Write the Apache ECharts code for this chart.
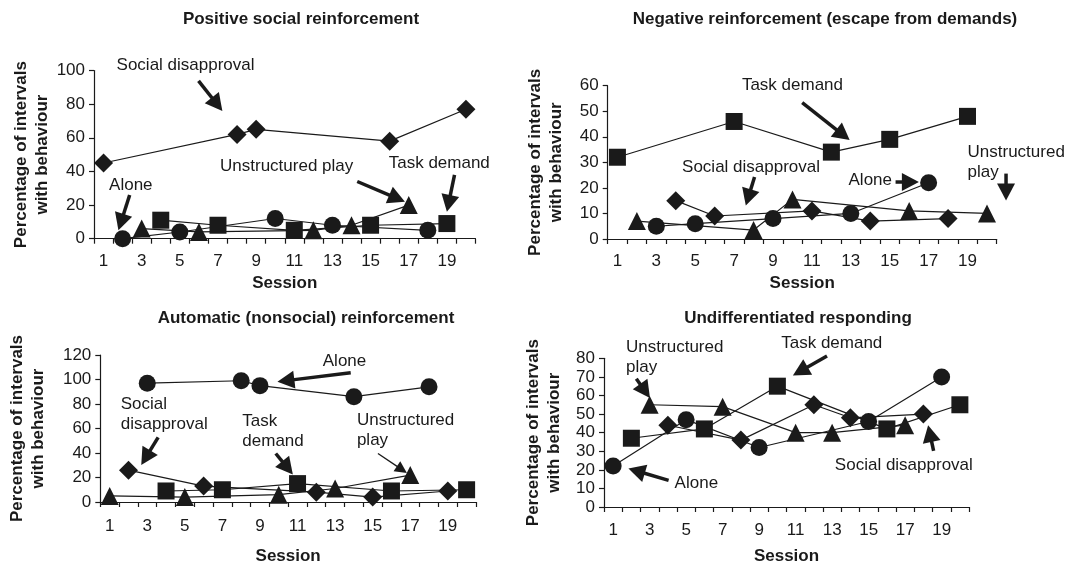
<!DOCTYPE html>
<html>
<head>
<meta charset="utf-8">
<title>Functional analysis outcomes</title>
<script src="https://cdn.jsdelivr.net/npm/echarts@6/dist/echarts.min.js"></script>
<style>
  html, body { margin: 0; padding: 0; background: #fff; }
  #chart { width: 1066px; height: 566px; }
</style>
</head>
<body>
<div id="chart"></div>
<script>
// ---- data ----
var panelTitles = [
    'Positive social reinforcement',
    'Negative reinforcement (escape from demands)',
    'Automatic (nonsocial) reinforcement',
    'Undifferentiated responding'
];
var sessionLabels = ['1', '2', '3', '4', '5', '6', '7', '8', '9', '10',
    '11', '12', '13', '14', '15', '16', '17', '18', '19', '20'];
var yMax = [100, 60, 120, 80];
var yStep = [20, 10, 20, 10];

// panel 1: positive social reinforcement
var p1SocialX = [1, 8, 9, 16, 20];
var p1SocialY = [45, 62, 65, 58, 77];
var p1AloneX = [2, 5, 10, 13, 18];
var p1AloneY = [0, 4, 12, 8, 5];
var p1TaskX = [4, 7, 11, 15, 19];
var p1TaskY = [11, 8, 5, 8, 9];
var p1PlayX = [3, 6, 12, 14, 17];
var p1PlayY = [6, 4, 5, 8, 20];

// panel 2: negative reinforcement
var p2SocialX = [4, 6, 11, 14, 18];
var p2SocialY = [15, 9, 11, 7, 8];
var p2AloneX = [3, 5, 9, 13, 17];
var p2AloneY = [5, 6, 8, 10, 22];
var p2TaskX = [1, 7, 12, 15, 19];
var p2TaskY = [32, 46, 34, 39, 48];
var p2PlayX = [2, 8, 10, 16, 20];
var p2PlayY = [7, 3.5, 15.5, 11, 10];

// panel 3: automatic reinforcement
var p3SocialX = [2, 6, 12, 15, 19];
var p3SocialY = [26, 13, 8, 4, 9];
var p3AloneX = [3, 8, 9, 14, 18];
var p3AloneY = [97, 99, 95, 86, 94];
var p3TaskX = [4, 7, 11, 16, 20];
var p3TaskY = [9, 10, 15, 9, 10];
var p3PlayX = [1, 5, 10, 13, 17];
var p3PlayY = [5, 4, 6, 11, 22];

// panel 4: undifferentiated
var p4SocialX = [4, 8, 12, 14, 18];
var p4SocialY = [44, 36, 55, 48, 50];
var p4AloneX = [1, 5, 9, 15, 19];
var p4AloneY = [22, 47, 32, 46, 70];
var p4TaskX = [2, 6, 10, 16, 20];
var p4TaskY = [37, 42, 65, 42, 55];
var p4PlayX = [3, 7, 11, 13, 17];
var p4PlayY = [55, 54, 40, 40, 44];

var panels = [
    [[p1SocialX, p1SocialY], [p1AloneX, p1AloneY], [p1TaskX, p1TaskY], [p1PlayX, p1PlayY]],
    [[p2SocialX, p2SocialY], [p2AloneX, p2AloneY], [p2TaskX, p2TaskY], [p2PlayX, p2PlayY]],
    [[p3SocialX, p3SocialY], [p3AloneX, p3AloneY], [p3TaskX, p3TaskY], [p3PlayX, p3PlayY]],
    [[p4SocialX, p4SocialY], [p4AloneX, p4AloneY], [p4TaskX, p4TaskY], [p4PlayX, p4PlayY]]
];
var conditionNames = ['Social disapproval', 'Alone', 'Task demand', 'Unstructured play'];

// ---- layout ----
var FONT = '"Liberation Sans", Arial, Helvetica, sans-serif';
var INK = '#1a1a1a';
var grids = [
    { left: 94, top: 70.5, width: 381.5, height: 168.2 },
    { left: 607.7, top: 85.7, width: 389, height: 153.3 },
    { left: 100.3, top: 355, width: 375.7, height: 152 },
    { left: 604, top: 358.3, width: 365, height: 153.4 }
];
var titleX = [301, 825, 306, 798];
var titleY = [11, 11, 310, 310];
var yNameGap = [37, 41, 51, 39];
var xNameGap = [36, 36, 46, 41];
var xLabelMargin = [14, 14, 16, 15];
var markerShape = ['diamond', 'circle', 'rect', 'triangle'];
var markerSize = [19, 17, 17, 18];

// annotations, in session / percent units of each panel
var notes = [
    { panel: 0, text: 'Social disapproval', at: [5.3, 103], from: [5.98, 93.8], to: [7.23, 75.9] },
    { panel: 0, text: 'Unstructured play', at: [10.6, 43], from: [14.3, 34], to: [16.8, 22] },
    { panel: 0, text: 'Task demand', at: [18.6, 45], from: [19.4, 38], to: [19.0, 16] },
    { panel: 0, text: 'Alone', at: [2.43, 32], from: [2.37, 26], to: [1.78, 5] },

    { panel: 1, text: 'Task demand', at: [10.0, 60], from: [10.5, 53.4], to: [12.94, 38.7] },
    { panel: 1, text: 'Social disapproval', at: [7.87, 28.2], from: [8.05, 24.3], to: [7.6, 13.1] },
    { panel: 1, text: 'Alone', at: [14.0, 23], from: [15.3, 22.3], to: [16.5, 22.3] },
    { panel: 1, text: 'Unstructured\nplay', at: [19.0, 30.2], align: 'left', from: [20.98, 25.6], to: [20.98, 15.1] },

    { panel: 2, text: 'Alone', at: [13.5, 114.8], from: [13.83, 105.5], to: [9.93, 98.2] },
    { panel: 2, text: 'Social\ndisapproval', at: [1.59, 71.2], align: 'left', from: [3.58, 52.8], to: [2.68, 30.3] },
    { panel: 2, text: 'Task\ndemand', at: [8.06, 57.5], align: 'left', from: [9.84, 39.6], to: [10.75, 22.4] },
    { panel: 2, text: 'Unstructured\nplay', at: [14.16, 58.3], align: 'left', from: [15.28, 39.6], to: [16.82, 23.7], thin: true },

    { panel: 3, text: 'Unstructured\nplay', at: [1.71, 80.3], align: 'left', from: [2.27, 69], to: [3.02, 58.7] },
    { panel: 3, text: 'Task demand', at: [12.98, 88], from: [12.72, 81.2], to: [10.85, 70.8] },
    { panel: 3, text: 'Social disapproval', at: [16.93, 22.5], from: [18.56, 30.2], to: [18.26, 44] },
    { panel: 3, text: 'Alone', at: [5.56, 12.6], from: [4.04, 14.3], to: [1.84, 20.7] }
];

function pairs(xs, ys) {
    return xs.map(function (x, i) { return [x, ys[i]]; });
}

var option = {
    animation: false,
    backgroundColor: '#fff',
    textStyle: { fontFamily: FONT, color: INK },
    title: [],
    grid: [],
    xAxis: [],
    yAxis: [],
    series: []
};

for (var g = 0; g < 4; g++) {
    option.title.push({
        text: panelTitles[g],
        left: titleX[g],
        top: titleY[g],
        textAlign: 'center',
        padding: 0,
        textStyle: { fontFamily: FONT, fontSize: 17, fontWeight: 'bold', color: INK }
    });
    option.grid.push(grids[g]);
    // visible category axis: ticks between sessions, every other label
    option.xAxis.push({
        type: 'category',
        gridIndex: g,
        data: sessionLabels,
        boundaryGap: true,
        name: 'Session',
        nameLocation: 'middle',
        nameGap: xNameGap[g],
        nameTextStyle: { fontFamily: FONT, fontSize: 17, fontWeight: 'bold', color: INK },
        axisLine: { lineStyle: { color: INK, width: 1.2 } },
        axisTick: { show: true, interval: 0, length: 5, lineStyle: { color: INK, width: 1.2 } },
        axisLabel: { interval: 1, margin: xLabelMargin[g], fontSize: 17, fontFamily: FONT, color: INK },
        splitLine: { show: false }
    });
    // hidden value axis used by the series so points sit on the session centres
    option.xAxis.push({
        type: 'value',
        gridIndex: g,
        min: 0.5,
        max: 20.5,
        show: false
    });
    option.yAxis.push({
        type: 'value',
        gridIndex: g,
        min: 0,
        max: yMax[g],
        interval: yStep[g],
        name: 'Percentage of intervals\nwith behaviour',
        nameLocation: 'middle',
        nameGap: yNameGap[g],
        nameTextStyle: { fontFamily: FONT, fontSize: 17, fontWeight: 'bold', color: INK, lineHeight: 21 },
        axisLine: { show: true, lineStyle: { color: INK, width: 1.2 } },
        axisTick: { show: true, length: 5, lineStyle: { color: INK, width: 1.2 } },
        axisLabel: { margin: 9, fontSize: 17, fontFamily: FONT, color: INK },
        splitLine: { show: false }
    });
    for (var c = 0; c < 4; c++) {
        option.series.push({
            type: 'line',
            name: conditionNames[c],
            xAxisIndex: g * 2 + 1,
            yAxisIndex: g,
            data: pairs(panels[g][c][0], panels[g][c][1]),
            symbol: markerShape[c],
            symbolSize: markerSize[c],
            showSymbol: true,
            clip: false,
            lineStyle: { color: INK, width: 1.2 },
            itemStyle: { color: INK, borderWidth: 0 },
            emphasis: { disabled: true },
            z: 3
        });
    }
}

var chart = echarts.init(document.getElementById('chart'));
chart.setOption(option);

// annotation labels and arrows placed through each panel's own axes
var elements = [];
notes.forEach(function (n) {
    var finder = { xAxisIndex: n.panel * 2 + 1, yAxisIndex: n.panel };
    var p = chart.convertToPixel(finder, n.at);
    elements.push({
        type: 'text',
        x: p[0],
        y: p[1],
        z: 10,
        style: {
            text: n.text,
            font: '17px ' + FONT,
            fill: INK,
            align: n.align || 'center',
            verticalAlign: 'middle',
            lineHeight: 20
        }
    });
    var a = chart.convertToPixel(finder, n.from);
    var b = chart.convertToPixel(finder, n.to);
    var dx = b[0] - a[0], dy = b[1] - a[1];
    var len = Math.sqrt(dx * dx + dy * dy);
    var ux = dx / len, uy = dy / len;
    var headLen = n.thin ? 12 : 17;
    var headHalf = n.thin ? 6 : 9;
    var bx = b[0] - ux * headLen, by = b[1] - uy * headLen;
    elements.push({
        type: 'line',
        z: 10,
        shape: { x1: a[0], y1: a[1], x2: bx + ux * 2, y2: by + uy * 2 },
        style: { stroke: INK, lineWidth: n.thin ? 1.3 : 3.5 }
    });
    elements.push({
        type: 'polygon',
        z: 10,
        shape: {
            points: [
                [b[0], b[1]],
                [bx - uy * headHalf, by + ux * headHalf],
                [bx + uy * headHalf, by - ux * headHalf]
            ]
        },
        style: { fill: INK }
    });
});
chart.setOption({ graphic: elements });
</script>
</body>
</html>
